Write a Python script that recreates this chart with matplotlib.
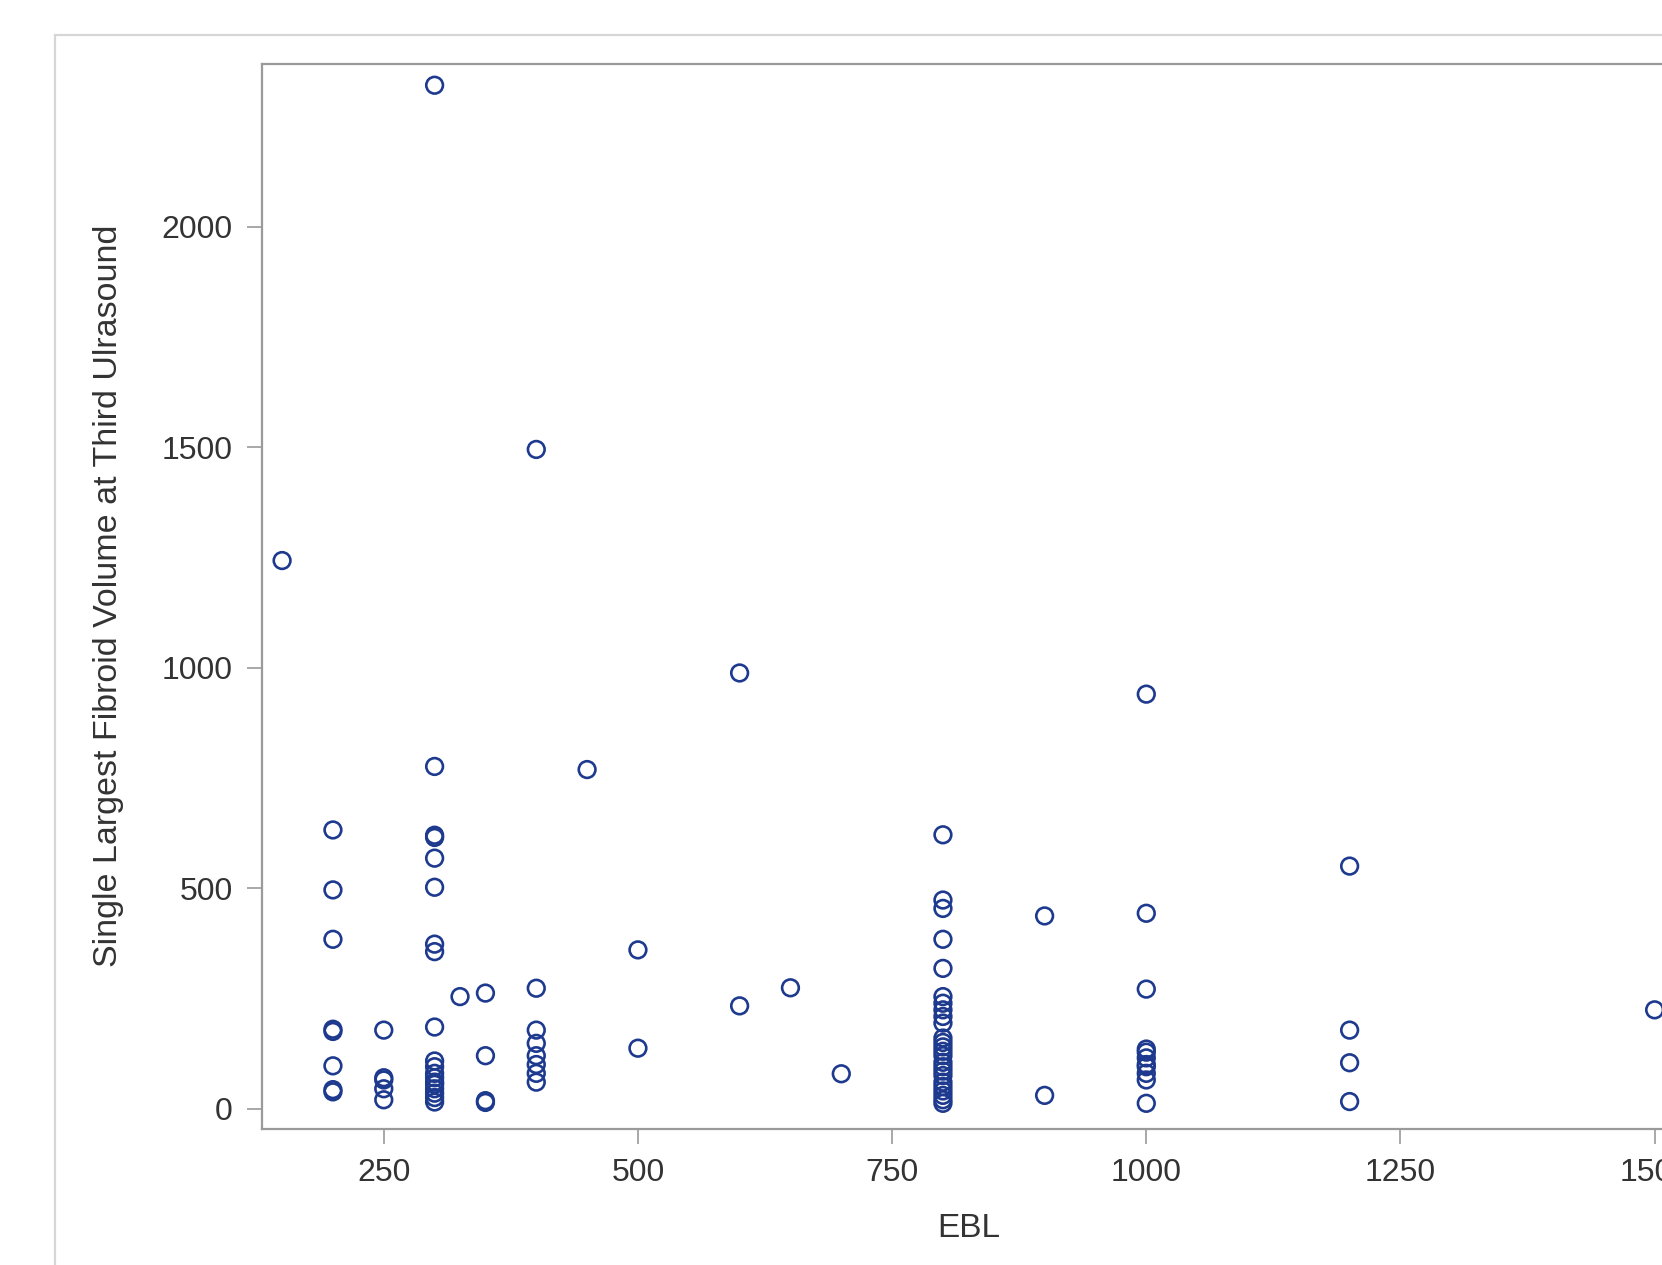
import matplotlib
matplotlib.use("Agg")
import matplotlib.pyplot as plt
from matplotlib.patches import Rectangle

# EBL values (x) and fibroid volume (y) grouped by EBL level
ebl_150 = [1243]
ebl_200 = [632, 496, 384, 180, 175, 97, 43, 38]
ebl_250 = [178, 70, 65, 45, 20]
ebl_300 = [2321, 776, 620, 615, 568, 502, 373, 356, 185,
           108, 95, 80, 70, 60, 55, 45, 35, 25, 15]
ebl_325 = [254]
ebl_350 = [262, 120, 18, 14]
ebl_400 = [1495, 273, 178, 148, 120, 100, 80, 60]
ebl_450 = [769]
ebl_500 = [360, 137]
ebl_600 = [988, 233]
ebl_650 = [274]
ebl_700 = [79]
ebl_800 = [621, 473, 454, 384, 318, 254, 239, 224, 209, 194,
           160, 150, 140, 130, 120, 105, 95, 85, 75, 60, 50, 40, 30, 20, 12]
ebl_900 = [437, 30]
ebl_1000 = [940, 443, 271, 135, 128, 115, 100, 95, 80, 65, 12]
ebl_1200 = [550, 178, 104, 16]
ebl_1500 = [224]

groups = {150: ebl_150, 200: ebl_200, 250: ebl_250, 300: ebl_300, 325: ebl_325,
          350: ebl_350, 400: ebl_400, 450: ebl_450, 500: ebl_500, 600: ebl_600,
          650: ebl_650, 700: ebl_700, 800: ebl_800, 900: ebl_900,
          1000: ebl_1000, 1200: ebl_1200, 1500: ebl_1500}

x_vals = []
y_vals = []
for k, v in groups.items():
    x_vals += [k] * len(v)
    y_vals += v

x_ticks = [250, 500, 750, 1000, 1250, 1500]
y_ticks = [0, 500, 1000, 1500, 2000]

plt.rcParams['font.family'] = ['Liberation Sans', 'DejaVu Sans']

fig = plt.figure(figsize=(16.62, 12.65), dpi=100)
fig.patch.set_facecolor('white')

# outer graph border
fig.patches.append(Rectangle((55 / 1662, -0.05), 1.2, 0.9727 + 0.05,
                             transform=fig.transFigure, fill=False,
                             edgecolor='#d6d6d6', linewidth=1.6))

ax = fig.add_axes([0.1575, 0.1076, 1.0078 - 0.1575, 0.9497 - 0.1076])
ax.scatter(x_vals, y_vals, s=12 ** 2, facecolors='none', edgecolors='#1d3a8e',
           linewidths=1.9, clip_on=False, zorder=3)

ax.set_xlim(130, 1520)
ax.set_ylim(-46, 2370)
ax.set_xticks(x_ticks)
ax.set_yticks(y_ticks)

for s in ax.spines.values():
    s.set_color('#9a9a9a')
    s.set_linewidth(1.6)

ax.tick_params(axis='both', direction='out', length=11, width=1.2,
               color='#9a9a9a', labelsize=23, labelcolor='#333333', pad=10)

ax.set_xlabel('EBL', fontsize=24, color='#333333', labelpad=18)
ax.set_ylabel('Single Largest Fibroid Volume at Third Ulrasound', fontsize=24.5,
              color='#333333', labelpad=27)

fig.savefig('out.png', dpi=100, facecolor='white')
